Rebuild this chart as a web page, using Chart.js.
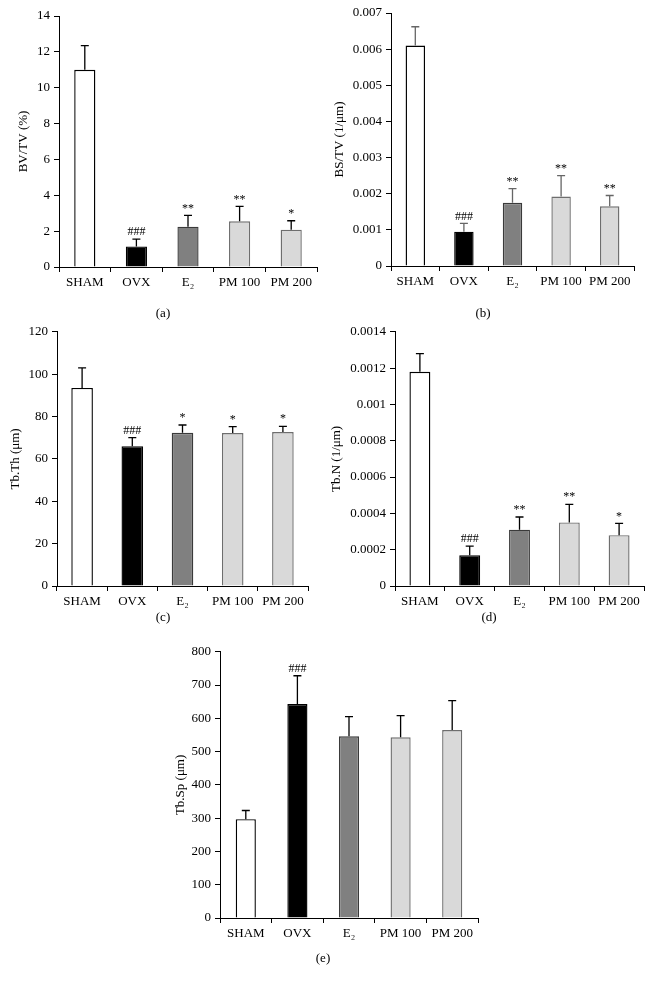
<!DOCTYPE html>
<html>
<head>
<meta charset="utf-8">
<script src="https://cdn.jsdelivr.net/npm/chart.js@4.4.1/dist/chart.umd.min.js"></script>
<style>
  body { margin: 0; background: #fff; }
  #page { position: relative; width: 652px; height: 984px; }
  canvas { position: absolute; }
  .tag { position: absolute; width: 40px; margin-left: -20px; text-align: center;
         font: 13px "Liberation Serif", "DejaVu Serif", serif; color: #000; }
</style>
</head>
<body>
<div id="page">
  <canvas id="chartA" width="326" height="300" style="left:0;top:0"></canvas>
  <canvas id="chartB" width="326" height="300" style="left:326px;top:0"></canvas>
  <canvas id="chartC" width="326" height="300" style="left:0;top:320px"></canvas>
  <canvas id="chartD" width="326" height="300" style="left:326px;top:320px"></canvas>
  <canvas id="chartE" width="330" height="320" style="left:160px;top:640px"></canvas>
  <div class="tag" style="left:163px;top:305px">(a)</div>
  <div class="tag" style="left:483px;top:305px">(b)</div>
  <div class="tag" style="left:163px;top:609px">(c)</div>
  <div class="tag" style="left:489px;top:609px">(d)</div>
  <div class="tag" style="left:323px;top:950px">(e)</div>
</div>
<script>
const groups = ['SHAM', 'OVX', 'E\u2082', 'PM 100', 'PM 200'];

// (a) BV/TV
const bvtvMean = [11.0, 1.15, 2.25, 2.55, 2.08];
const bvtvSd = [1.35, 0.4, 0.63, 0.83, 0.5];
const bvtvMarks = ['', '###', '**', '**', '*'];

// (b) BS/TV
const bstvMean = [0.0061, 0.00095, 0.00175, 0.00192, 0.00165];
const bstvSd = [0.00052, 0.00023, 0.00039, 0.00058, 0.0003];
const bstvMarks = ['', '###', '**', '**', '**'];

// (c) Tb.Th
const tbthMean = [93.5, 66, 72.3, 72.2, 72.7];
const tbthSd = [9.5, 4, 3.7, 3, 2.7];
const tbthMarks = ['', '###', '*', '*', '*'];

// (d) Tb.N
const tbnMean = [0.00118, 0.00017, 0.00031, 0.00035, 0.00028];
const tbnSd = [0.0001, 0.00005, 0.00007, 0.0001, 0.000065];
const tbnMarks = ['', '###', '**', '**', '*'];

// (e) Tb.Sp
const tbspMean = [297, 643, 546, 543, 565];
const tbspSd = [26, 85, 59, 65, 88];
const tbspMarks = ['', '###', '', '', ''];

const fills = ['#ffffff', '#000000', '#808080', '#d9d9d9', '#d9d9d9'];
const edges = ['#000000', '#000000', '#3a3a3a', '#6e6e6e', '#6e6e6e'];
const serif = '"Liberation Serif", "DejaVu Serif", serif';

// error bars + significance marks
const errorBars = {
  id: 'errorBars',
  afterDatasetsDraw(chart, args, opts) {
    const ctx = chart.ctx;
    const y = chart.scales.y;
    const meta = chart.getDatasetMeta(0);
    ctx.save();
    ctx.strokeStyle = opts.color;
    ctx.lineWidth = 1.3;
    ctx.fillStyle = '#000';
    ctx.font = '12px ' + serif;
    ctx.textAlign = 'center';
    ctx.textBaseline = 'bottom';
    meta.data.forEach((bar, i) => {
      const m = opts.mean[i];
      const top = y.getPixelForValue(m + opts.sd[i]);
      const base = y.getPixelForValue(m);
      ctx.beginPath();
      ctx.moveTo(bar.x, base);
      ctx.lineTo(bar.x, top);
      ctx.moveTo(bar.x - 4, top);
      ctx.lineTo(bar.x + 4, top);
      ctx.stroke();
      if (opts.marks[i]) ctx.fillText(opts.marks[i], bar.x, top - 1);
    });
    ctx.restore();
  }
};

function buildPanel(id, mean, sd, marks, cfg) {
  new Chart(document.getElementById(id), {
    type: 'bar',
    data: {
      labels: groups,
      datasets: [{
        data: mean,
        backgroundColor: fills,
        borderColor: edges,
        borderWidth: 1.4,
        borderSkipped: 'bottom',
        categoryPercentage: 1,
        barPercentage: cfg.barPct
      }]
    },
    options: {
      responsive: false,
      animation: false,
      layout: { padding: { left: 0, right: cfg.right, top: cfg.top, bottom: 0 } },
      plugins: {
        legend: { display: false },
        tooltip: { enabled: false },
        errorBars: { mean: mean, sd: sd, marks: marks, color: cfg.errColor || '#000' }
      },
      scales: {
        x: {
          grid: { drawOnChartArea: false, tickLength: 5, color: '#000', offset: true },
          border: { color: '#000' },
          ticks: { color: '#000', font: { family: serif, size: 13 }, padding: 3, maxRotation: 0 },
          afterFit(s) { s.height = cfg.xh; }
        },
        y: {
          min: 0,
          max: cfg.max,
          grid: { drawOnChartArea: false, tickLength: 5, color: '#000' },
          border: { color: '#000' },
          ticks: {
            stepSize: cfg.step,
            color: '#000',
            padding: 4,
            font: { family: serif, size: 13 },
            callback: v => String(parseFloat(v.toFixed(5)))
          },
          title: {
            display: true,
            text: cfg.title,
            color: '#000',
            font: { family: serif, size: 13 },
            padding: { top: cfg.tpad, bottom: 0 }
          },
          afterFit(s) { s.width = cfg.yw; }
        }
      }
    },
    plugins: [errorBars]
  });
}

buildPanel('chartA', bvtvMean, bvtvSd, bvtvMarks,
  { max: 14, step: 2, title: 'BV/TV (%)', yw: 59, right: 9, top: 16, xh: 33, tpad: 16, barPct: 0.41 });
buildPanel('chartB', bstvMean, bstvSd, bstvMarks,
  { max: 0.007, step: 0.001, title: 'BS/TV (1/\u03bcm)', yw: 65, right: 18, top: 13, xh: 34, tpad: 6, barPct: 0.40, errColor: '#666' });
buildPanel('chartC', tbthMean, tbthSd, tbthMarks,
  { max: 120, step: 20, title: 'Tb.Th (\u03bcm)', yw: 57, right: 18, top: 8, xh: 34, tpad: 8, barPct: 0.43 });
buildPanel('chartD', tbnMean, tbnSd, tbnMarks,
  { max: 0.0014, step: 0.0002, title: 'Tb.N (1/\u03bcm)', yw: 69, right: 8, top: 8, xh: 34, tpad: 3, barPct: 0.42 });
buildPanel('chartE', tbspMean, tbspSd, tbspMarks,
  { max: 800, step: 100, title: 'Tb.Sp (\u03bcm)', yw: 60, right: 12, top: 7, xh: 42, tpad: 13, barPct: 0.39 });
</script>
</body>
</html>
